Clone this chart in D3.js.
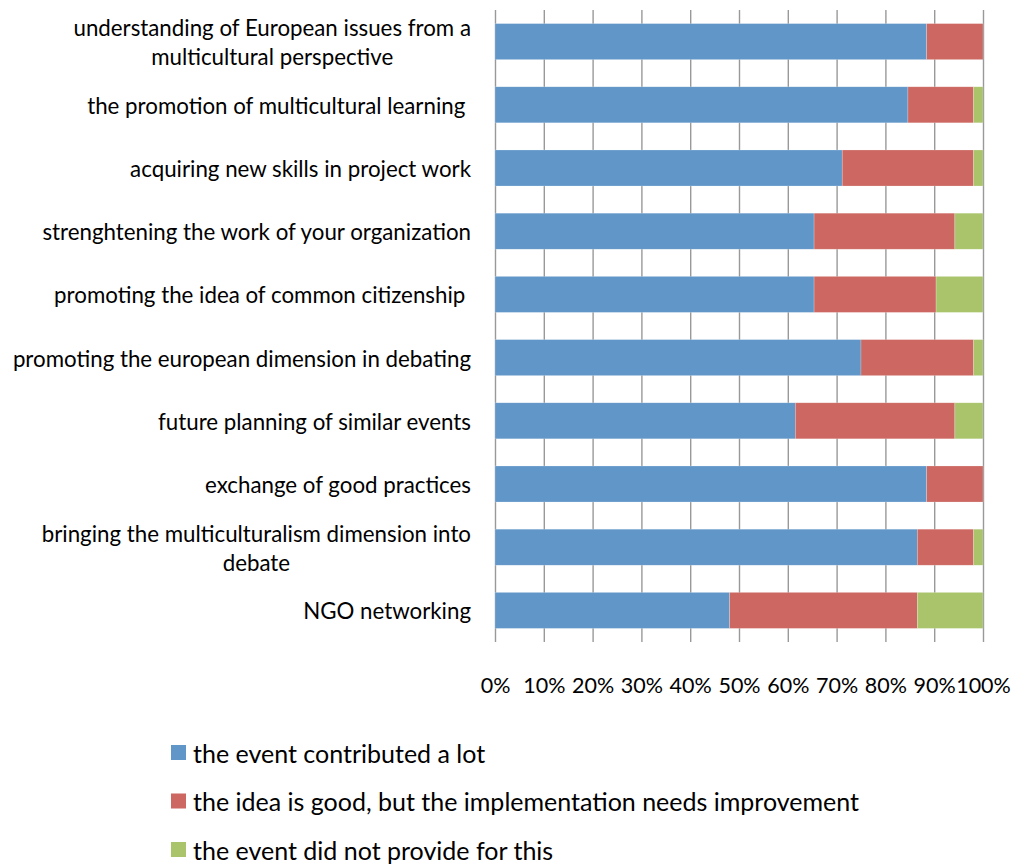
<!DOCTYPE html>
<html>
<head>
<meta charset="utf-8">
<script src="https://cdn.jsdelivr.net/npm/d3@7"></script>
<style>
  body { margin: 0; background: #fff; }
  text { font-family: Lato, sans-serif; fill: #000; }
</style>
</head>
<body>
<div id="chart"></div>
<script>
// categories, top to bottom (wrapped lines as shown in the chart)
const categories = [
    ["understanding of European issues from a", "multicultural perspective"],
    ["the promotion of multicultural learning "],
    ["acquiring new skills in project work"],
    ["strenghtening the work of your organization"],
    ["promoting the idea of common citizenship "],
    ["promoting the european dimension in debating"],
    ["future planning of similar events"],
    ["exchange of good practices"],
    ["bringing the multiculturalism dimension into", "debate"],
    ["NGO networking"]
];

// number of answers per category
const contributedALot = [46, 44, 37, 34, 34, 39, 32, 46, 45, 25];
const needsImprovement = [6, 7, 14, 15, 13, 12, 17, 6, 6, 20];
const notProvided = [0, 1, 1, 3, 5, 1, 3, 0, 1, 7];

const seriesNames = [
    "the event contributed a lot",
    "the idea is good, but the implementation needs improvement",
    "the event did not provide for this"
];
const seriesColors = ["#6196c8", "#cc6761", "#a9c46b"];
const tickValues = [0, 0.1, 0.2, 0.3, 0.4, 0.5, 0.6, 0.7, 0.8, 0.9, 1];

const width = 1014;
const height = 865;
const plotLeft = 495;
const plotRight = 983;
const plotTop = 10;
const plotBottom = 642;

const keys = categories.map((c) => c.join(" "));
const rows = keys.map((key, i) => ({
    key: key,
    [seriesNames[0]]: contributedALot[i],
    [seriesNames[1]]: needsImprovement[i],
    [seriesNames[2]]: notProvided[i]
}));

const stack = d3.stack().keys(seriesNames).offset(d3.stackOffsetExpand);
const stacked = stack(rows);

const svg = (
    d3.select("#chart")
    .append("svg")
    .attr("width", width)
    .attr("height", height)
);

const xScale = d3.scaleLinear().domain([0, 1]).range([plotLeft, plotRight]);
const yScale = (
    d3.scaleBand()
    .domain(keys)
    .range([plotTop, plotBottom])
    .paddingInner(0.43)
    .paddingOuter(0.215)
);
const color = d3.scaleOrdinal().domain(seriesNames).range(seriesColors);

// vertical gridlines + percent labels
const xAxis = (
    d3.axisBottom(xScale)
    .tickValues(tickValues)
    .tickFormat(d3.format(".0%"))
    .tickSizeInner(-(plotBottom - plotTop))
    .tickSizeOuter(0)
    .tickPadding(36)
);
const gx = (
    svg.append("g")
    .attr("transform", `translate(0, ${plotBottom})`)
    .call(xAxis)
);
gx.select(".domain").remove();
gx.selectAll(".tick line").attr("stroke", "#999").attr("stroke-width", 1.4);
gx.selectAll(".tick text")
    .style("font-family", "Lato, sans-serif")
    .style("font-size", "21.5px")
    .attr("fill", "#000");

// stacked bars
(
    svg.append("g")
    .selectAll("g")
    .data(stacked)
    .join("g")
    .attr("fill", (d) => color(d.key))
    .selectAll("rect")
    .data((d) => d)
    .join("rect")
    .attr("x", (d) => xScale(d[0]))
    .attr("y", (d) => yScale(d.data.key))
    .attr("width", (d) => xScale(d[1]) - xScale(d[0]))
    .attr("height", yScale.bandwidth())
    .attr("stroke", "rgba(255,255,255,0.35)")
    .attr("stroke-width", 0.6)
);

// category labels, right aligned; wrapped lines centred within their block
const labelRight = 471;
const lineGap = 29;
categories.forEach((lines, i) => {
    const cy = yScale(keys[i]) + yScale.bandwidth() / 2;
    const g = svg.append("g");
    const texts = lines.map((line, j) => (
        g.append("text")
        .attr("y", cy + 9 + (j - (lines.length - 1) / 2) * lineGap)
        .style("font-size", "22.3px")
        .style("white-space", "pre")
        .text(line)
    ));
    if (lines.length === 1) {
        texts[0].attr("x", labelRight).attr("text-anchor", "end");
    } else {
        const blockWidth = d3.max(texts, (t) => t.node().getComputedTextLength());
        texts.forEach((t) => (
            t.attr("x", labelRight - blockWidth / 2).attr("text-anchor", "middle")
        ));
    }
});

// legend
const legend = (
    svg.append("g")
    .selectAll("g")
    .data(seriesNames)
    .join("g")
    .attr("transform", (d, i) => `translate(171, ${752.5 + i * 48.5})`)
);
(
    legend.append("rect")
    .attr("x", 0)
    .attr("y", -7.5)
    .attr("width", 15)
    .attr("height", 15)
    .attr("fill", (d) => color(d))
);
(
    legend.append("text")
    .attr("x", 22)
    .attr("y", 10)
    .style("font-size", "25px")
    .text((d) => d)
);
</script>
</body>
</html>
